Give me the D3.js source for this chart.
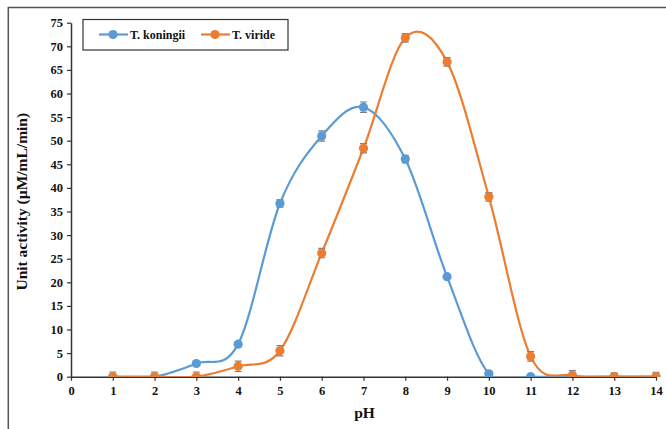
<!DOCTYPE html>
<html>
<head>
<meta charset="utf-8">
<script src="https://cdn.jsdelivr.net/npm/d3@7"></script>
<style>
  body { margin: 0; background: #fff; }
  text { font-family: "Liberation Serif", "Times New Roman", serif; font-weight: bold; }
</style>
</head>
<body>
<div id="chart"></div>
<script>
const phValues = [1, 2, 3, 4, 5, 6, 7, 8, 9, 10, 11, 12, 13, 14];
const koningii = [0, 0, 2.8, 6.9, 36.7, 51, 57.1, 46.1, 21.2, 0.6, 0, 0, 0, 0];
const koningiiErr = [0, 0, 0.3, 0.5, 0.8, 1.1, 1.1, 0.8, 0.2, 0.2, 0.1, 0, 0, 0];
const viride = [0, 0, 0, 2.2, 5.5, 26.2, 48.4, 71.8, 66.7, 38.1, 4.3, 0.3, 0, 0];
const virideErr = [1, 1, 1, 1.1, 1.1, 1, 1, 0.9, 0.9, 0.9, 1, 1, 0.8, 0.9];
const xTicks = d3.range(0, 15);
const yTicks = d3.range(0, 80, 5);

const W = 666, H = 429;
const margin = { top: 22.7, left: 71 };
const width = 656 - margin.left, height = 376.7 - margin.top;

const svg = d3.select("#chart").append("svg")
  .attr("width", W).attr("height", H);

// outer frame (cut at right and bottom)
svg.append("rect")
  .attr("x", 8.3).attr("y", 7.5)
  .attr("width", W).attr("height", H)
  .attr("fill", "none").attr("stroke", "#555").attr("stroke-width", 1.5);

svg.append("clipPath").attr("id", "plot-clip")
  .append("rect")
  .attr("x", margin.left - 10).attr("y", margin.top - 10)
  .attr("width", width + 20).attr("height", height + 10);

const g = svg.append("g").attr("transform", `translate(${margin.left},${margin.top})`);

const x = d3.scaleLinear().domain([0, 14]).range([0, width]);
const y = d3.scaleLinear().domain([0, 75]).range([height, 0]);

const xAxis = g.append("g")
  .attr("transform", `translate(0,${height})`)
  .call(d3.axisBottom(x).tickValues(xTicks).tickSize(4).tickSizeOuter(0).tickPadding(5));
const yAxis = g.append("g")
  .call(d3.axisLeft(y).tickValues(yTicks).tickSize(4).tickSizeOuter(0).tickPadding(4));

[xAxis, yAxis].forEach(a => {
  a.select(".domain").attr("stroke", "#333").attr("stroke-width", 1.5);
  a.selectAll(".tick line").attr("stroke", "#333").attr("stroke-width", 1.2);
  a.selectAll(".tick text").attr("font-size", 12.5).attr("fill", "#111")
    .style("font-family", "'Liberation Serif', serif").style("font-weight", "bold");
});

g.append("text")
  .attr("transform", `translate(-44,${height / 2 + 2}) rotate(-90)`)
  .attr("text-anchor", "middle")
  .attr("font-size", 15.5)
  .attr("fill", "#111")
  .text("Unit activity (µM/mL/min)");

g.append("text")
  .attr("x", x(7) + 1).attr("y", height + 41.5)
  .attr("text-anchor", "middle")
  .attr("font-size", 15.5)
  .attr("fill", "#111")
  .text("pH");

const series = [
  { name: "T. koningii", values: koningii, err: koningiiErr, color: "#5B9BD5" },
  { name: "T. viride", values: viride, err: virideErr, color: "#ED7D31" }
];

const line = d3.line()
  .x(d => x(d.ph))
  .y(d => y(d.v))
  .curve(d3.curveCatmullRom.alpha(0));

const plot = svg.append("g")
  .attr("clip-path", "url(#plot-clip)")
  .append("g")
  .attr("transform", `translate(${margin.left},${margin.top})`);

series.forEach(s => {
  const pts = phValues.map((ph, i) => ({ ph, v: s.values[i], e: s.err[i] }));
  plot.append("path")
    .datum(pts)
    .attr("fill", "none")
    .attr("stroke", s.color)
    .attr("stroke-width", 2.2)
    .attr("d", line);

  const eb = plot.append("g").selectAll("g").data(pts.filter(d => d.e > 0)).join("g");
  eb.append("line")
    .attr("x1", d => x(d.ph)).attr("x2", d => x(d.ph))
    .attr("y1", d => y(d.v + d.e)).attr("y2", d => y(d.v - d.e))
    .attr("stroke", "#808080").attr("stroke-width", 1.2);
  [1, -1].forEach(sign => {
    eb.append("line")
      .attr("x1", d => x(d.ph) - 3.5).attr("x2", d => x(d.ph) + 3.5)
      .attr("y1", d => y(d.v + sign * d.e)).attr("y2", d => y(d.v + sign * d.e))
      .attr("stroke", "#808080").attr("stroke-width", 1.2);
  });

  plot.append("g").selectAll("circle").data(pts).join("circle")
    .attr("cx", d => x(d.ph)).attr("cy", d => y(d.v))
    .attr("r", 4.6)
    .attr("fill", s.color);
});

// legend
const legend = svg.append("g");
legend.append("rect")
  .attr("x", 83).attr("y", 19.5).attr("width", 205).attr("height", 30.5)
  .attr("fill", "#fff").attr("stroke", "#333").attr("stroke-width", 1.2);
const items = [{ s: series[0], x0: 99 }, { s: series[1], x0: 201 }];
items.forEach(it => {
  legend.append("line")
    .attr("x1", it.x0).attr("x2", it.x0 + 29)
    .attr("y1", 34.5).attr("y2", 34.5)
    .attr("stroke", it.s.color).attr("stroke-width", 2.2);
  legend.append("circle")
    .attr("cx", it.x0 + 14).attr("cy", 34.5).attr("r", 4.6)
    .attr("fill", it.s.color);
  legend.append("text")
    .attr("x", it.x0 + 31).attr("y", 38.5)
    .attr("font-size", 12).attr("fill", "#111")
    .text(it.s.name);
});
</script>
</body>
</html>
